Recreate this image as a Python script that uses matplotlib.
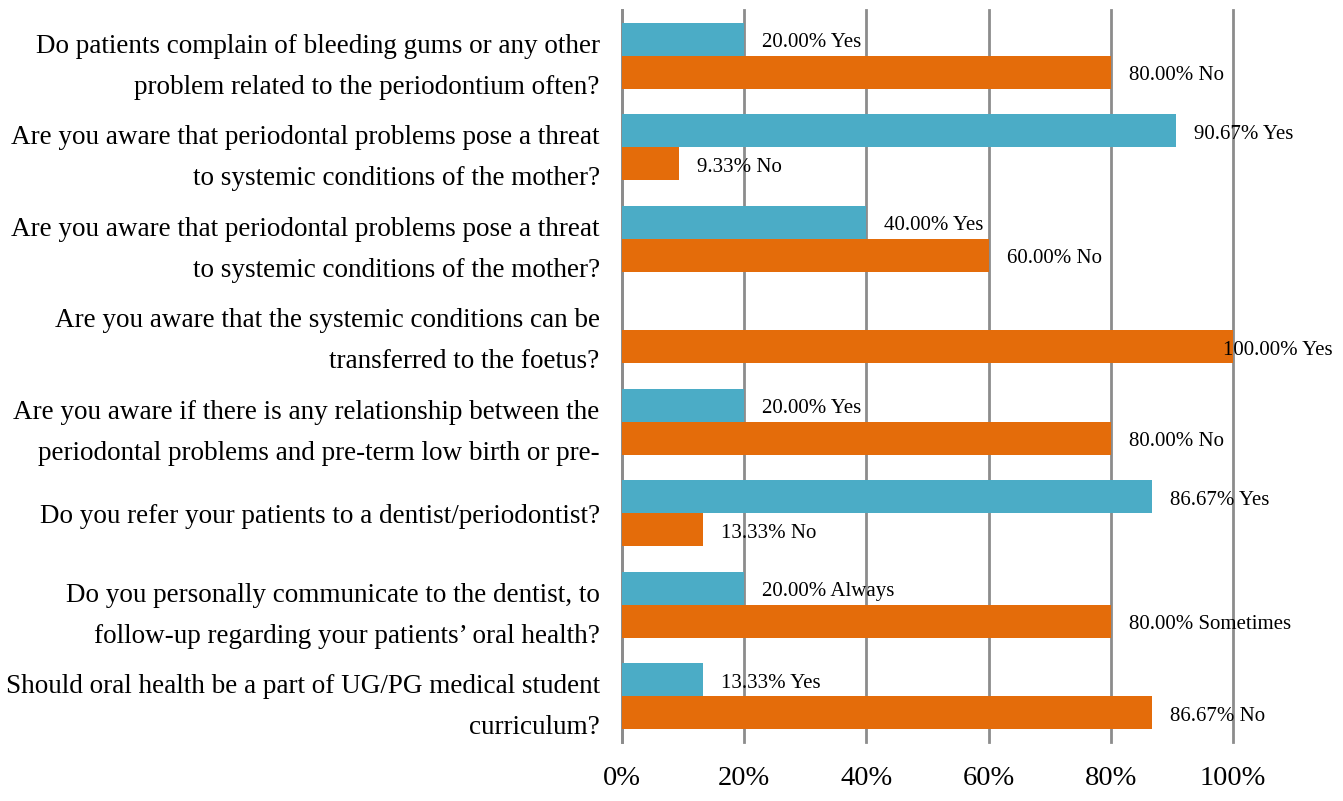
import numpy as np
import matplotlib.pyplot as plt

plt.rcParams['font.family'] = ['Liberation Serif', 'DejaVu Serif']

questions = [
    "Do patients complain of bleeding gums or any other\nproblem related to the periodontium often?",
    "Are you aware that periodontal problems pose a threat\nto systemic conditions of the mother?",
    "Are you aware that periodontal problems pose a threat\nto systemic conditions of the mother?",
    "Are you aware that the systemic conditions can be\ntransferred to the foetus?",
    "Are you aware if there is any relationship between the\nperiodontal problems and pre-term low birth or pre-",
    "Do you refer your patients to a dentist/periodontist?",
    "Do you personally communicate to the dentist, to\nfollow-up regarding your patients\u2019 oral health?",
    "Should oral health be a part of UG/PG medical student\ncurriculum?",
]
first_pct = [20.00, 90.67, 40.00, 0.0, 20.00, 86.67, 20.00, 13.33]
first_word = ["Yes", "Yes", "Yes", None, "Yes", "Yes", "Always", "Yes"]
second_pct = [80.00, 9.33, 60.00, 100.00, 80.00, 13.33, 80.00, 86.67]
second_word = ["No", "No", "No", "Yes", "No", "No", "Sometimes", "No"]
ticks = [0, 20, 40, 60, 80, 100]

teal = '#4BACC6'
orange = '#E46C0A'
grid_c = '#8c8c8c'

fig = plt.figure(figsize=(13.43, 8.01), dpi=100)
ax = fig.add_axes([0.4631, 0.0737, 0.4550, 0.9138])

y = np.arange(len(questions))
h = 0.36
ax.barh(y - h / 2, first_pct, height=h, color=teal, zorder=3)
ax.barh(y + h / 2, second_pct, height=h, color=orange, zorder=3)


def put_label(val, word, ypos):
    if word is None:
        return
    dx = 18 if val < 100 else -10
    ax.annotate(f"{val:.2f}% {word}", (val, ypos), xytext=(dx, 0),
                textcoords='offset pixels', ha='left', va='center',
                fontsize=15, zorder=4)


for i in range(len(questions)):
    put_label(first_pct[i], first_word[i], y[i] - h / 2 + 0.04)
    put_label(second_pct[i], second_word[i], y[i] + h / 2 + 0.04)

ax.set_xlim(0, 100)
ax.set_ylim(len(questions) - 0.5, -0.5)
ax.set_xticks(ticks)
ax.set_xticklabels([f"{t}%" for t in ticks], fontsize=20.5)
ax.tick_params(axis='x', length=0, pad=17)
ax.set_yticks(y)
ax.set_yticklabels(questions, fontsize=19.5, linespacing=1.85)
ax.tick_params(axis='y', length=0, pad=16)
for lbl in ax.get_yticklabels():
    lbl.set_horizontalalignment('right')
    lbl.set_multialignment('right')

for s in ['top', 'right', 'bottom']:
    ax.spines[s].set_visible(False)
ax.spines['left'].set_color(grid_c)
ax.spines['left'].set_linewidth(2)
ax.grid(axis='x', color=grid_c, linewidth=2, zorder=0)
ax.set_axisbelow(True)
for gl in ax.get_xgridlines():
    gl.set_clip_on(False)

fig.savefig('out.png', dpi=100)
